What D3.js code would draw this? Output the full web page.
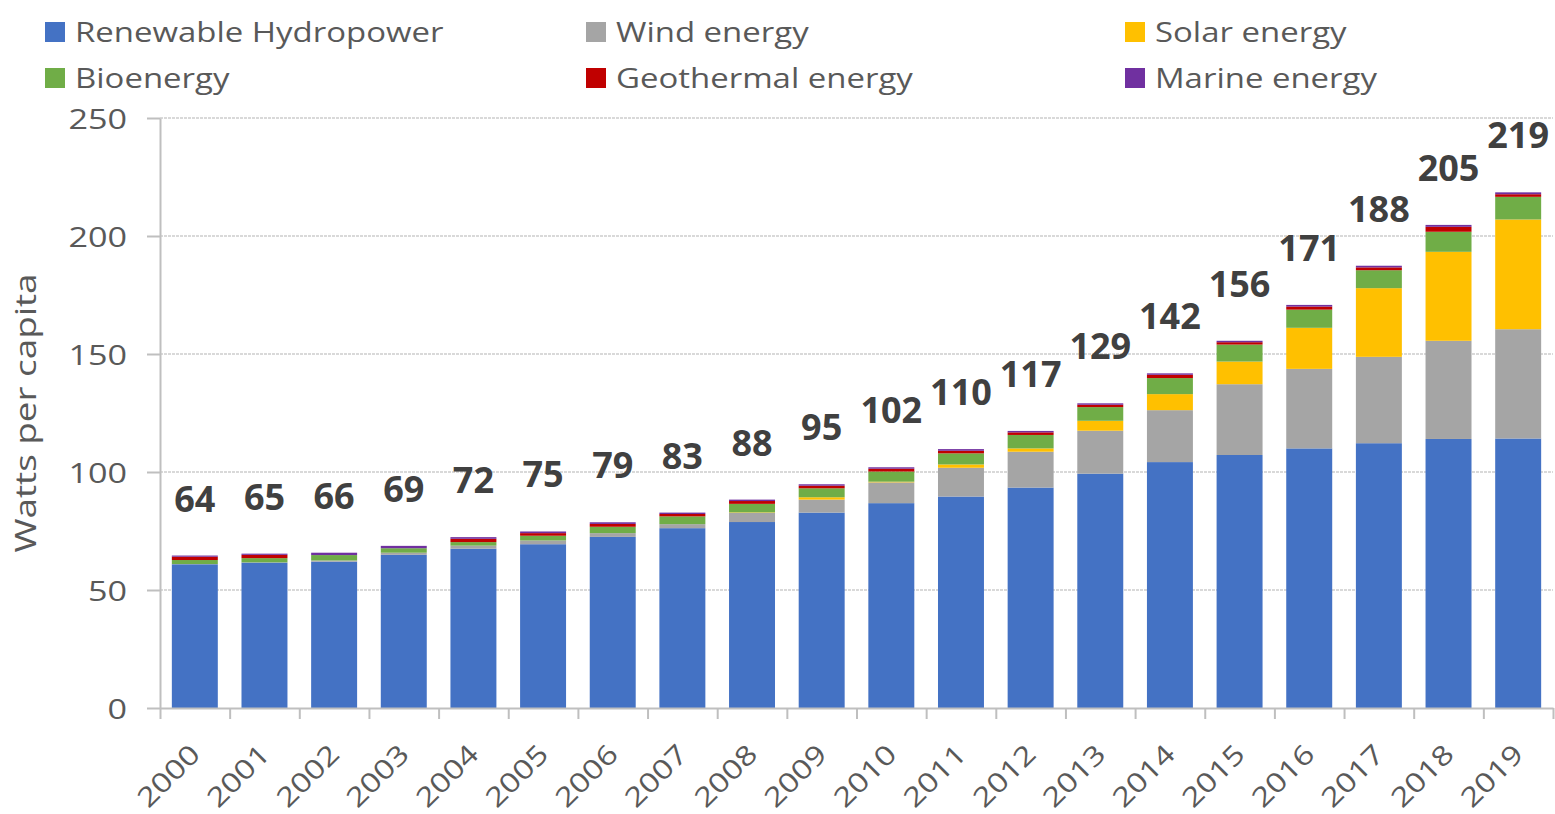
<!DOCTYPE html>
<html>
<head>
<meta charset="utf-8">
<script src="https://cdn.jsdelivr.net/npm/d3@7"></script>
<style>
  body { margin: 0; background: #fff; }
  text { font-family: "Open Sans", sans-serif; }
</style>
</head>
<body>
<div id="chart"></div>
<script>
// values (watts per capita)
var years = ["2000","2001","2002","2003","2004","2005","2006","2007","2008","2009",
             "2010","2011","2012","2013","2014","2015","2016","2017","2018","2019"];
var hydro  = [60.9, 61.6, 62.0, 64.9, 67.5, 69.4, 72.5, 76.2, 78.8, 82.8,
              86.8, 89.6, 93.4, 99.3, 104.2, 107.2, 110.0, 112.2, 114.0, 114.2];
var wind   = [0.1, 0.1, 0.5, 0.9, 1.3, 1.6, 1.6, 1.7, 3.9, 5.5,
              8.8, 12.2, 15.2, 18.2, 22.0, 30.0, 33.7, 36.6, 41.6, 46.3];
var solar  = [0, 0, 0, 0, 0, 0, 0, 0, 0.2, 1.0,
              0.3, 1.4, 1.4, 4.2, 6.8, 9.6, 17.4, 29.1, 37.7, 46.5];
var bio    = [1.7, 1.8, 2.3, 1.9, 1.5, 2.0, 2.7, 3.3, 3.6, 3.8,
              4.3, 4.7, 5.7, 5.8, 6.8, 7.2, 7.7, 7.6, 8.5, 9.6];
var geo    = [1.4, 1.4, 0, 0, 1.4, 1.1, 1.2, 1.0, 1.2, 1.1,
              1.2, 1.1, 1.1, 1.0, 1.4, 1.0, 1.3, 1.2, 2.1, 1.1];
var marine = [0.5, 0.5, 1.0, 1.0, 0.7, 0.7, 0.7, 0.6, 0.6, 0.6,
              0.6, 0.7, 0.6, 0.6, 0.6, 0.6, 0.7, 0.7, 0.8, 0.8];
var totals = [64, 65, 66, 69, 72, 75, 79, 83, 88, 95,
              102, 110, 117, 129, 142, 156, 171, 188, 205, 219];

var keys = ["hydro", "wind", "solar", "bio", "geo", "marine"];
var seriesNames = ["Renewable Hydropower", "Wind energy", "Solar energy",
                   "Bioenergy", "Geothermal energy", "Marine energy"];
var colors = ["#4472c4", "#a5a5a5", "#ffc000", "#70ad47", "#c00000", "#7030a0"];
var yTicks = [0, 50, 100, 150, 200, 250];

var W = 1555, H = 814;
var margin = { left: 160, right: 2, top: 118, bottom: 106 };
var plotW = W - margin.left - margin.right;
var plotH = H - margin.top - margin.bottom;
var stretch = 1.22;   // the source font runs wider than Open Sans

var rows = years.map(function(y, i) {
    return { year: y, hydro: hydro[i], wind: wind[i], solar: solar[i],
             bio: bio[i], geo: geo[i], marine: marine[i] };
});
var stacked = d3.stack().keys(keys)(rows);

var svg = d3.select("#chart").append("svg")
    .attr("width", W)
    .attr("height", H);
var g = svg.append("g")
    .attr("transform", "translate(" + margin.left + "," + margin.top + ")");

var x = d3.scaleBand().domain(years).range([0, plotW])
    .paddingInner(0.34).paddingOuter(0.17);
var y = d3.scaleLinear().domain([0, 250]).range([plotH, 0]);

// gridlines
g.append("g").attr("class", "grid")
    .selectAll("line")
    .data(yTicks.slice(1))
    .enter().append("line")
    .attr("x1", 0).attr("x2", plotW)
    .attr("y1", function(d) { return y(d); })
    .attr("y2", function(d) { return y(d); })
    .attr("stroke", "#d9d9d9")
    .attr("stroke-width", 2)
    .attr("stroke-dasharray", "3,1");

// bars
g.append("g").selectAll("g")
    .data(stacked)
    .enter().append("g")
    .attr("fill", function(d, i) { return colors[i]; })
    .selectAll("rect")
    .data(function(d) { return d; })
    .enter().append("rect")
    .attr("x", function(d) { return x(d.data.year); })
    .attr("width", x.bandwidth())
    .attr("y", function(d) { return y(d[1]); })
    .attr("height", function(d) { return y(d[0]) - y(d[1]); });

// y axis
var yAxis = g.append("g")
    .call(d3.axisLeft(y).tickValues(yTicks).tickSize(13).tickSizeOuter(0));
yAxis.select(".domain").attr("stroke", "#bfbfbf").attr("stroke-width", 2);
yAxis.selectAll(".tick line").attr("stroke", "#bfbfbf").attr("stroke-width", 2);
yAxis.selectAll(".tick text")
    .attr("x", 0)
    .attr("dy", "0.36em")
    .attr("transform", "translate(-33,0) scale(" + stretch + ",1)")
    .attr("fill", "#595959")
    .style("font-size", "28px");

// x axis: ticks between categories
var xEdge = d3.scaleLinear().domain([0, years.length]).range([0, plotW]);
var xTicks = g.append("g")
    .attr("transform", "translate(0," + plotH + ")")
    .call(d3.axisBottom(xEdge).tickValues(d3.range(years.length + 1))
        .tickFormat("").tickSize(11).tickSizeOuter(0));
xTicks.select(".domain").attr("stroke", "#bfbfbf").attr("stroke-width", 2);
xTicks.selectAll(".tick line").attr("stroke", "#bfbfbf").attr("stroke-width", 2);

var xLabels = g.append("g")
    .attr("transform", "translate(0," + plotH + ")")
    .call(d3.axisBottom(x).tickSize(0));
xLabels.select(".domain").remove();
xLabels.selectAll(".tick text")
    .attr("y", 0)
    .attr("dy", 0)
    .attr("text-anchor", "end")
    .attr("transform", "translate(7,48) rotate(-45) scale(" + stretch + ",1)")
    .attr("fill", "#595959")
    .style("font-size", "27px");

// y axis title
svg.append("text")
    .attr("transform", "translate(36,413) rotate(-90) scale(1.27,1)")
    .attr("text-anchor", "middle")
    .attr("fill", "#595959")
    .style("font-size", "29px")
    .text("Watts per capita");

// totals above bars
var tops = stacked[stacked.length - 1];
g.append("g").selectAll("text")
    .data(totals)
    .enter().append("text")
    .attr("x", function(d, i) { return x(years[i]) + x.bandwidth() / 2; })
    .attr("y", function(d, i) { return y(tops[i][1]) - 44; })
    .attr("text-anchor", "middle")
    .attr("fill", "#404040")
    .style("font-size", "36px")
    .style("font-weight", "bold")
    .text(function(d) { return d; });

// legend
var legendX = [45, 586, 1125];
var legendY = [22, 68];
var legend = svg.append("g").selectAll("g")
    .data(seriesNames)
    .enter().append("g")
    .attr("transform", function(d, i) {
        return "translate(" + legendX[i % 3] + "," + legendY[Math.floor(i / 3)] + ")";
    });
legend.append("rect")
    .attr("width", 20).attr("height", 20)
    .attr("fill", function(d, i) { return colors[i]; });
legend.append("text")
    .attr("transform", "translate(30,20) scale(" + stretch + ",1)")
    .attr("fill", "#595959")
    .style("font-size", "27px")
    .text(function(d) { return d; });
</script>
</body>
</html>
